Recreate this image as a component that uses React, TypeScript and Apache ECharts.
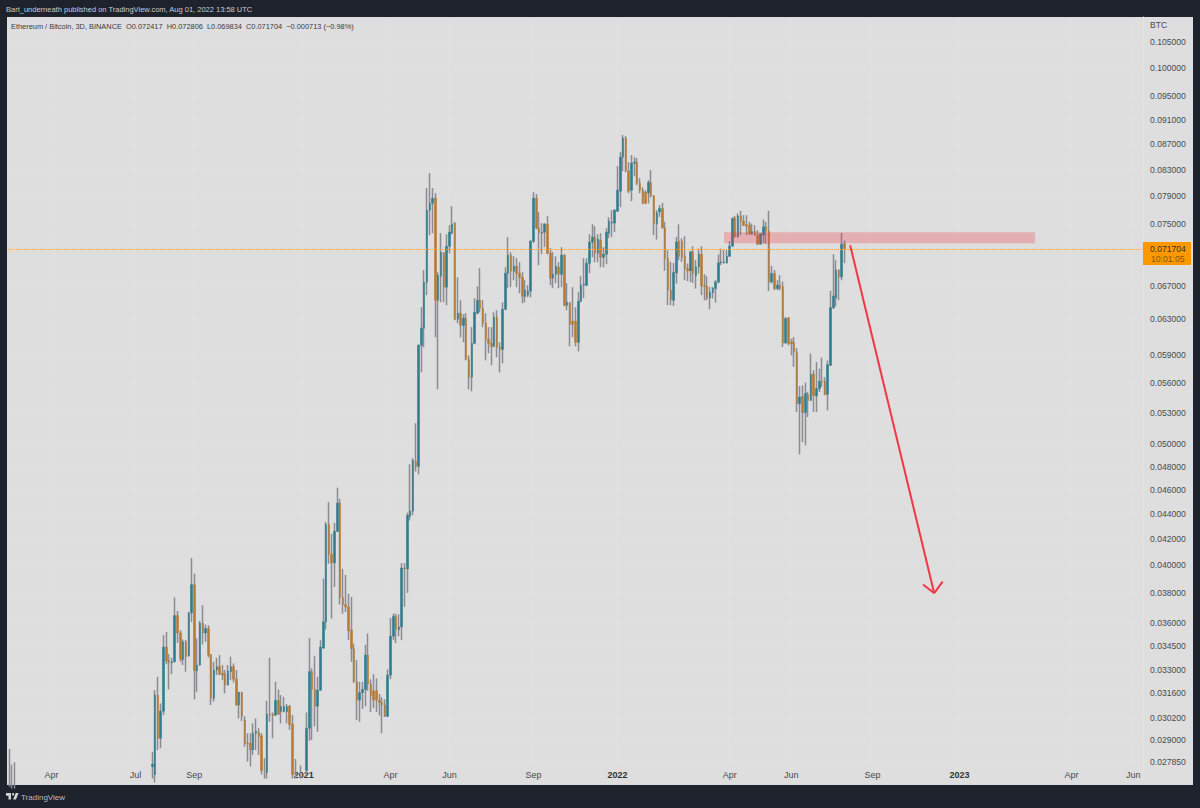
import { useEffect, useRef } from "react";
import * as echarts from "echarts";

// every row is [open, close, low, high], one row per 3D bar
const earlyStubs = [
  [0.027, 0.0268, 0.0266, 0.02851],
  [0.0268, 0.0267, 0.0265, 0.0277],
  [0.0267, 0.0269, 0.0265, 0.02783],
];
// bars that sit completely below the visible price range
const hiddenBars = 48;

const bars2020 = [
  [0.0276, 0.02772, 0.027, 0.02836],
  [0.0272, 0.03149, 0.0268, 0.03178],
  [0.03149, 0.02908, 0.02846, 0.03257],
  [0.02908, 0.03057, 0.02855, 0.03101],
  [0.03057, 0.03441, 0.03035, 0.03517],
  [0.03441, 0.03353, 0.03334, 0.03538],
  [0.03355, 0.03344, 0.03182, 0.03396],
  [0.03342, 0.03349, 0.03273, 0.03373],
  [0.03349, 0.03646, 0.03345, 0.03769],
  [0.03646, 0.03531, 0.03468, 0.03678],
  [0.03531, 0.03365, 0.03349, 0.03549],
  [0.03363, 0.03474, 0.03328, 0.03489],
  [0.03474, 0.03383, 0.03288, 0.03485],
  [0.03385, 0.03664, 0.0338, 0.03671],
  [0.03664, 0.0386, 0.03604, 0.04054],
  [0.0386, 0.03294, 0.03124, 0.03939],
  [0.03294, 0.03328, 0.03168, 0.03496],
  [0.03328, 0.03597, 0.03324, 0.03611],
  [0.03595, 0.03531, 0.03457, 0.03716],
  [0.03531, 0.0356, 0.03474, 0.03586],
  [0.0356, 0.0339, 0.03375, 0.03582],
  [0.03394, 0.0313, 0.03092, 0.03396],
  [0.0313, 0.03298, 0.03111, 0.03349],
  [0.03298, 0.03318, 0.03267, 0.03373],
  [0.03318, 0.03273, 0.03267, 0.0339],
  [0.03277, 0.03267, 0.03237, 0.03328],
  [0.03277, 0.03208, 0.03159, 0.03298],
  [0.03208, 0.03292, 0.03205, 0.03328],
  [0.03288, 0.03318, 0.03237, 0.0338],
  [0.03318, 0.03243, 0.03223, 0.03338],
  [0.03243, 0.03092, 0.03088, 0.03298],
  [0.03092, 0.03166, 0.03016, 0.03168],
  [0.03166, 0.03029, 0.03003, 0.03168],
  [0.03007, 0.02881, 0.02863, 0.03029],
  [0.02881, 0.02877, 0.02786, 0.02935],
  [0.02881, 0.02846, 0.0276, 0.02935],
  [0.02846, 0.02935, 0.0282, 0.02989],
  [0.02935, 0.02944, 0.02846, 0.03016],
  [0.02942, 0.02917, 0.0282, 0.02962],
  [0.02921, 0.0274, 0.0272, 0.02935],
  [0.0274, 0.0272, 0.027, 0.02803],
  [0.0273, 0.03041, 0.027, 0.03116],
  [0.03041, 0.03035, 0.02998, 0.03373],
  [0.03039, 0.03032, 0.02908, 0.0305],
  [0.03035, 0.03118, 0.03029, 0.03227],
  [0.03118, 0.03041, 0.03035, 0.03182],
  [0.03055, 0.03083, 0.02989, 0.03149],
  [0.03055, 0.03083, 0.0305, 0.03139],
  [0.03055, 0.03083, 0.02989, 0.03098],
  [0.03084, 0.02983, 0.02953, 0.03092],
  [0.02985, 0.0272, 0.027, 0.03035],
  [0.0274, 0.0272, 0.027, 0.02799],
  [0.0272, 0.0271, 0.027, 0.0274],
  [0.0272, 0.0271, 0.027, 0.02765],
  [0.0271, 0.0272, 0.027, 0.0274],
];

const bars2021 = [
  [0.0274, 0.02962, 0.0272, 0.0305],
  [0.02962, 0.03288, 0.02895, 0.03499],
  [0.03288, 0.03182, 0.02899, 0.03308],
  [0.03182, 0.03085, 0.02972, 0.03386],
  [0.03085, 0.03178, 0.02944, 0.03257],
  [0.03178, 0.0344, 0.03174, 0.03485],
  [0.03435, 0.03604, 0.03428, 0.03903],
  [0.03604, 0.04313, 0.03553, 0.04333],
  [0.04313, 0.04082, 0.04012, 0.04494],
  [0.04082, 0.04019, 0.03626, 0.0424],
  [0.04019, 0.04259, 0.03844, 0.04327],
  [0.04259, 0.04487, 0.04253, 0.04616],
  [0.04487, 0.03769, 0.03722, 0.04523],
  [0.03769, 0.03722, 0.03659, 0.03975],
  [0.0372, 0.03705, 0.0367, 0.03931],
  [0.03705, 0.03545, 0.03485, 0.03797],
  [0.03549, 0.0343, 0.03348, 0.03774],
  [0.0343, 0.03227, 0.03222, 0.03462],
  [0.03227, 0.0312, 0.03007, 0.03359],
  [0.0312, 0.03163, 0.02998, 0.03227],
  [0.03163, 0.03182, 0.0307, 0.03227],
  [0.03182, 0.0339, 0.03085, 0.03455],
  [0.0339, 0.03214, 0.03174, 0.03528],
  [0.03214, 0.03146, 0.03052, 0.03241],
  [0.03174, 0.0312, 0.03074, 0.03273],
  [0.03174, 0.0312, 0.03052, 0.03247],
  [0.0312, 0.03105, 0.03033, 0.03155],
  [0.03105, 0.03092, 0.02935, 0.03137],
  [0.03092, 0.03028, 0.03024, 0.03125],
  [0.03028, 0.03267, 0.03024, 0.03302],
  [0.03267, 0.0351, 0.03243, 0.0363],
  [0.0351, 0.0364, 0.03485, 0.03659],
  [0.0364, 0.03555, 0.03466, 0.03659],
  [0.03553, 0.03571, 0.0351, 0.03654],
  [0.03571, 0.0398, 0.03485, 0.04017],
  [0.0398, 0.03975, 0.03705, 0.04017],
  [0.03975, 0.04387, 0.03802, 0.04408],
  [0.04379, 0.04422, 0.04346, 0.0482],
  [0.0442, 0.04855, 0.04387, 0.04873],
  [0.04846, 0.04801, 0.04757, 0.05198],
  [0.04801, 0.06002, 0.04731, 0.06013],
  [0.06002, 0.06194, 0.0571, 0.06439],
  [0.06194, 0.06743, 0.0598, 0.06894],
  [0.06743, 0.07701, 0.06583, 0.0802],
  [0.07701, 0.078, 0.07354, 0.08245],
  [0.078, 0.07873, 0.07381, 0.0802],
  [0.07873, 0.06522, 0.06092, 0.07946],
  [0.06522, 0.06831, 0.05534, 0.06869],
  [0.06818, 0.07127, 0.06498, 0.07381],
  [0.0712, 0.06681, 0.06498, 0.07127],
  [0.06681, 0.07206, 0.06462, 0.07367],
  [0.07206, 0.07395, 0.07113, 0.07491],
  [0.07381, 0.07505, 0.07367, 0.07758],
  [0.07519, 0.06298, 0.06286, 0.07532],
  [0.06298, 0.06368, 0.06251, 0.06805],
  [0.06368, 0.06228, 0.06092, 0.06522],
  [0.06228, 0.0631, 0.06036, 0.06356],
  [0.0631, 0.05849, 0.05838, 0.06368],
  [0.05849, 0.05658, 0.05534, 0.05892],
  [0.05658, 0.06025, 0.05514, 0.06206],
  [0.06025, 0.06379, 0.06013, 0.06546],
  [0.06368, 0.06522, 0.06356, 0.06693],
  [0.06522, 0.06427, 0.06379, 0.06919],
  [0.06427, 0.06251, 0.06206, 0.06522],
  [0.06251, 0.0607, 0.05838, 0.06368],
  [0.0607, 0.06025, 0.05915, 0.06206],
  [0.06025, 0.05991, 0.05785, 0.06206],
  [0.05991, 0.06321, 0.0598, 0.06379],
  [0.06321, 0.0598, 0.05871, 0.06403],
  [0.0598, 0.05958, 0.0571, 0.06036],
  [0.05958, 0.06415, 0.05806, 0.06498],
  [0.06415, 0.06856, 0.06403, 0.06932],
  [0.06856, 0.07087, 0.06669, 0.07327],
  [0.07087, 0.06881, 0.06681, 0.07127],
  [0.06881, 0.06945, 0.06768, 0.07074],
  [0.06945, 0.06856, 0.06681, 0.07048],
  [0.06856, 0.06805, 0.06607, 0.06996],
  [0.06805, 0.0657, 0.06486, 0.06869],
  [0.0657, 0.06644, 0.06498, 0.06768],
  [0.06583, 0.06632, 0.06558, 0.06706],
  [0.06632, 0.07273, 0.06558, 0.07286],
  [0.07273, 0.07873, 0.07247, 0.0796],
  [0.07873, 0.07449, 0.07436, 0.07931],
  [0.07449, 0.07381, 0.06958, 0.07673],
  [0.07381, 0.07395, 0.071, 0.07519],
  [0.07395, 0.07505, 0.07193, 0.07519],
  [0.07505, 0.07113, 0.071, 0.07616],
  [0.07113, 0.06793, 0.06706, 0.0718],
  [0.06793, 0.06843, 0.06669, 0.07127],
  [0.06843, 0.06945, 0.06731, 0.07074],
  [0.06932, 0.06843, 0.06669, 0.06996],
  [0.06843, 0.07087, 0.06681, 0.07193],
  [0.07087, 0.06462, 0.0645, 0.071],
  [0.06462, 0.06498, 0.06403, 0.06731],
  [0.06492, 0.06239, 0.05991, 0.06498],
  [0.06274, 0.06239, 0.06092, 0.06681],
  [0.06274, 0.06036, 0.05991, 0.06439],
  [0.06036, 0.0651, 0.05936, 0.0662],
  [0.0651, 0.06706, 0.06498, 0.06818],
  [0.06706, 0.06718, 0.06546, 0.07048],
  [0.06706, 0.06983, 0.06693, 0.07048],
  [0.06983, 0.0726, 0.06856, 0.07367],
  [0.0726, 0.07327, 0.07061, 0.07505],
  [0.07327, 0.07113, 0.06996, 0.07477],
  [0.07113, 0.073, 0.06996, 0.07367],
  [0.07286, 0.07061, 0.06932, 0.07381],
  [0.07061, 0.071, 0.06932, 0.07193],
  [0.071, 0.07395, 0.06971, 0.07449],
  [0.07381, 0.07546, 0.07313, 0.07602],
  [0.07519, 0.07532, 0.07327, 0.07701],
  [0.07519, 0.07701, 0.07395, 0.07715],
  [0.07687, 0.0799, 0.07673, 0.08352],
  [0.07975, 0.08492, 0.07744, 0.08572],
  [0.08492, 0.08795, 0.08276, 0.08844],
  [0.08795, 0.08276, 0.0826, 0.08828],
  [0.08276, 0.07975, 0.07946, 0.08414],
  [0.0799, 0.08398, 0.0783, 0.08524],
  [0.08398, 0.08414, 0.082, 0.08492],
  [0.08414, 0.08094, 0.08064, 0.08476],
  [0.08094, 0.0799, 0.07946, 0.08169],
  [0.0799, 0.078, 0.07786, 0.08034],
  [0.0796, 0.078, 0.07786, 0.0799],
];

const bars2022 = [
  [0.07949, 0.08105, 0.07797, 0.08139],
  [0.08104, 0.07905, 0.07884, 0.08291],
  [0.07905, 0.0751, 0.07354, 0.07917],
  [0.0751, 0.07663, 0.07295, 0.07701],
  [0.07677, 0.07725, 0.07606, 0.07772],
  [0.07725, 0.07454, 0.07445, 0.07805],
  [0.07454, 0.07044, 0.06885, 0.07537],
  [0.07044, 0.06644, 0.06462, 0.07153],
  [0.06644, 0.0653, 0.06462, 0.07],
  [0.06522, 0.06865, 0.06454, 0.06987],
  [0.0686, 0.07263, 0.06727, 0.0733],
  [0.07276, 0.07074, 0.07022, 0.07502],
  [0.07276, 0.07057, 0.07, 0.07309],
  [0.07074, 0.06916, 0.06768, 0.0734],
  [0.06916, 0.06885, 0.06755, 0.06979],
  [0.06885, 0.07131, 0.06746, 0.0714],
  [0.07131, 0.06852, 0.06734, 0.07206],
  [0.06822, 0.06936, 0.06665, 0.07022],
  [0.06936, 0.071, 0.06852, 0.07175],
  [0.071, 0.06697, 0.06583, 0.07206],
  [0.06697, 0.06689, 0.06522, 0.06843],
  [0.06697, 0.0655, 0.06522, 0.06818],
  [0.0655, 0.06615, 0.06415, 0.06685],
  [0.06615, 0.06665, 0.06543, 0.06685],
  [0.06665, 0.06746, 0.06495, 0.06768],
  [0.06746, 0.06987, 0.06727, 0.07096],
  [0.06987, 0.07, 0.06958, 0.07175],
  [0.06987, 0.07, 0.06979, 0.07153],
  [0.06987, 0.07074, 0.06979, 0.07153],
  [0.07074, 0.07206, 0.07065, 0.07273],
  [0.07206, 0.07584, 0.07202, 0.07597],
  [0.07592, 0.0733, 0.07322, 0.0762],
  [0.0733, 0.0762, 0.07322, 0.07654],
  [0.0762, 0.07546, 0.07354, 0.07691],
  [0.07546, 0.07491, 0.07477, 0.0763],
  [0.075, 0.07477, 0.07354, 0.0763],
  [0.07487, 0.07367, 0.07363, 0.07537],
  [0.07367, 0.07405, 0.07363, 0.07512],
  [0.07405, 0.07354, 0.0735, 0.07491],
  [0.07354, 0.07233, 0.0722, 0.07422],
  [0.07233, 0.07377, 0.07228, 0.07377],
  [0.07354, 0.07468, 0.07242, 0.0757],
  [0.07468, 0.07408, 0.07233, 0.07537],
  [0.07408, 0.06746, 0.06636, 0.07691],
  [0.06746, 0.06852, 0.06727, 0.06949],
  [0.06852, 0.06665, 0.06644, 0.06894],
  [0.06665, 0.06706, 0.06644, 0.06768],
  [0.06706, 0.06665, 0.06644, 0.06831],
  [0.06685, 0.06028, 0.05984, 0.06752],
  [0.06028, 0.06305, 0.0602, 0.06324],
  [0.06313, 0.0602, 0.06002, 0.06324],
  [0.06041, 0.0602, 0.05892, 0.06076],
  [0.06032, 0.05929, 0.05768, 0.06095],
  [0.05929, 0.0539, 0.05307, 0.05972],
  [0.0539, 0.05456, 0.04909, 0.05568],
  [0.05463, 0.05301, 0.05021, 0.05575],
  [0.05301, 0.05491, 0.04991, 0.05603],
  [0.0548, 0.05423, 0.05259, 0.05507],
  [0.05423, 0.05689, 0.05417, 0.05911],
  [0.05689, 0.05473, 0.05307, 0.05732],
  [0.05466, 0.05541, 0.05307, 0.0582],
  [0.05541, 0.05616, 0.05507, 0.05749],
  [0.05616, 0.05609, 0.05558, 0.05867],
  [0.05616, 0.05483, 0.05473, 0.05661],
  [0.05483, 0.05792, 0.05324, 0.05838],
  [0.05785, 0.06434, 0.05778, 0.06636],
  [0.06434, 0.06574, 0.06418, 0.071],
  [0.0655, 0.06894, 0.0645, 0.07022],
  [0.06894, 0.06809, 0.06522, 0.06906],
  [0.06809, 0.07233, 0.06768, 0.07385],
  [0.072417, 0.071704, 0.069834, 0.072806],
];

const priceTicks = [
  0.105, 0.1, 0.095, 0.091, 0.087, 0.083, 0.079, 0.075, 0.067, 0.063, 0.059, 0.056, 0.053, 0.05,
  0.048, 0.046, 0.044, 0.042, 0.04, 0.038, 0.036, 0.0345, 0.033, 0.0316, 0.0302, 0.029, 0.02785,
];
const timeTickBars = [15, 45, 66, 105, 136, 157, 187, 217, 257, 279, 308, 339, 379, 401];
const timeTickLabels = ["Apr", "Jul", "Sep", "2021", "Apr", "Jun", "Sep", "2022", "Apr", "Jun", "Sep", "2023", "Apr", "Jun"];
const yearLabels = ["2021", "2022", "2023"];
const barSlots = 405;
const lastPrice = 0.071704;
const resistanceZone = { fromBar: 255, toBar: 366, top: 0.07394, bottom: 0.07245 };
const arrowShaft = [[300, 0.07219], [330, 0.038]];
const arrowLeftWing = [[326, 0.03861], [330, 0.038]];
const arrowRightWing = [[333, 0.03882], [330, 0.038]];

const font = '"Liberation Sans", Arial, sans-serif';
const teal = "#2f7d8e";
const orange = "#b87b30";
const wickGray = "#8b8b91";

// TradingView logo mark
echarts.graphic.registerShape(
  "tvLogo",
  echarts.graphic.extendPath(
    "M0 6H14V20H7V12H0Z M17 9a3 3 0 1 0 6 0a3 3 0 1 0 -6 0Z M27.5 6H35.5L28 20H20Z",
    {}
  )
);

export default function App() {
  const chartRef = useRef<HTMLDivElement>(null);

  useEffect(() => {
    document.body.style.margin = "0";
    document.body.style.background = "#1e222d";
    if (!chartRef.current) return;
    const chart = echarts.init(chartRef.current, undefined, { renderer: "svg" });

    const blanks = Array.from({ length: hiddenBars }, () => ["-", "-", "-", "-"]);
    const rows: any[][] = [...earlyStubs, ...blanks, ...bars2020, ...bars2021, ...bars2022];
    const bodies = rows.map((r) =>
      r[0] === "-" ? r : [r[0], r[1], Math.min(r[0], r[1]), Math.max(r[0], r[1])]
    );
    const categories = Array.from({ length: barSlots }, (_, i) => String(i));

    const option = {
      animation: false,
      backgroundColor: "#1e222d",
      textStyle: { fontFamily: font },
      grid: { left: 8, right: 57, top: 17, bottom: 42 },
      xAxis: {
        type: "category",
        data: categories,
        axisLine: { show: false },
        axisTick: { show: false },
        axisLabel: {
          interval: (index: number) => timeTickBars.includes(index),
          formatter: (_: string, index: number) => {
            const label = timeTickLabels[timeTickBars.indexOf(index)];
            return yearLabels.includes(label) ? `{year|${label}}` : label;
          },
          color: "#4a4a4f",
          fontSize: 9,
          margin: 4,
          rich: { year: { fontWeight: "bold", fontSize: 9, color: "#333333" } },
        },
        splitLine: {
          show: true,
          interval: (index: number) => timeTickBars.includes(index),
          lineStyle: { color: "#e0e0e0" },
        },
      },
      yAxis: {
        type: "log",
        position: "right",
        min: 0.02763,
        max: 0.10996,
        axisLine: { show: true, lineStyle: { color: "#e4e4e4" } },
        axisTick: { show: false, customValues: priceTicks },
        axisLabel: {
          customValues: priceTicks,
          formatter: (value: number) => value.toFixed(6),
          color: "#4a4a4f",
          fontSize: 8.6,
          margin: 7,
        },
        splitLine: { show: true, lineStyle: { color: "#e0e0e0" } },
      },
      series: [
        {
          name: "wicks",
          type: "candlestick",
          data: rows,
          barWidth: 1,
          itemStyle: {
            color: wickGray,
            color0: wickGray,
            borderColor: wickGray,
            borderColor0: wickGray,
            borderWidth: 1.5,
          },
        },
        {
          name: "ETHBTC",
          type: "candlestick",
          data: bodies,
          barWidth: 2,
          itemStyle: {
            color: teal,
            color0: orange,
            borderColor: teal,
            borderColor0: orange,
            borderWidth: 0.5,
          },
          markArea: {
            silent: true,
            z: 5,
            itemStyle: { color: "rgba(242, 54, 69, 0.28)" },
            data: [
              [
                { coord: [resistanceZone.fromBar, resistanceZone.top] },
                { coord: [resistanceZone.toBar, resistanceZone.bottom] },
              ],
            ],
          },
          markLine: {
            silent: true,
            z: 6,
            symbol: "none",
            precision: 8,
            label: { show: false },
            data: [
              { yAxis: lastPrice, lineStyle: { color: "#f9a94f", type: "dotted", width: 1 } },
              ...[arrowShaft, arrowLeftWing, arrowRightWing].map((seg) => [
                { coord: seg[0], lineStyle: { color: "#f23645", type: "solid", width: 2 } },
                { coord: seg[1] },
              ]),
            ],
          },
        },
      ],
      graphic: [
        { type: "rect", z: -10, shape: { x: 7, y: 17, width: 1186, height: 768 }, style: { fill: "#dedede" } },
        { type: "text", z: 10, x: 6, y: 9, style: { text: "Bart_underneath published on TradingView.com, Aug 01, 2022 13:58 UTC", fill: "#c8cad0", font: `7.5px ${font}`, textVerticalAlign: "middle" } },
        { type: "text", z: 10, x: 11, y: 26, style: { text: "Ethereum / Bitcoin, 3D, BINANCE  O0.072417  H0.072806  L0.069834  C0.071704  −0.000713 (−0.98%)", fill: "#3a3a3f", font: `7.4px ${font}`, textVerticalAlign: "middle" } },
        { type: "text", z: 10, x: 1150, y: 25, style: { text: "BTC", fill: "#4a4a4f", font: `8.6px ${font}`, textVerticalAlign: "middle" } },
        { type: "rect", z: 8, shape: { x: 1143, y: 242, width: 48, height: 23 }, style: { fill: "#ff9800" } },
        { type: "text", z: 9, x: 1150, y: 249, style: { text: "0.071704", fill: "#333333", font: `8.6px ${font}`, textVerticalAlign: "middle" } },
        { type: "text", z: 9, x: 1151, y: 259, style: { text: "10:01:05", fill: "#7a5a14", font: `8.6px ${font}`, textVerticalAlign: "middle" } },
        { type: "tvLogo", x: 6, y: 790.2, scaleX: 0.355, scaleY: 0.46, style: { fill: "#d4d6dc" } },
        { type: "text", z: 10, x: 21, y: 797, style: { text: "TradingView", fill: "#b8bbc2", font: `8px ${font}`, textVerticalAlign: "middle" } },
      ],
    };

    chart.setOption(option as any);
    return () => {
      chart.dispose();
    };
  }, []);

  return <div ref={chartRef} style={{ width: 1200, height: 808 }}></div>;
}
